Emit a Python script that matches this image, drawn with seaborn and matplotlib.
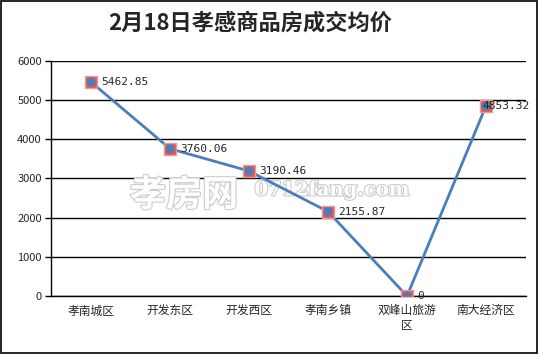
import matplotlib.pyplot as plt
import matplotlib.patches as mpatches
import matplotlib.patheffects as pe
import pandas as pd
import seaborn as sns

# Data
districts = ['孝南城区', '开发东区', '开发西区', '孝南乡镇', '双峰山旅游\n区', '南大经济区']
prices = [5462.85, 3760.06, 3190.46, 2155.87, 0, 4853.32]
price_labels = ['5462.85', '3760.06', '3190.46', '2155.87', '0', '4853.32']
yticks = [0, 1000, 2000, 3000, 4000, 5000, 6000]

df = pd.DataFrame({'pos': range(len(districts)), 'price': prices})

sns.set_style('white')
plt.rcParams['font.family'] = ['Noto Sans CJK SC', 'DejaVu Sans']

fig = plt.figure(figsize=(5.39, 3.54), dpi=100)
ax = fig.add_axes([0.0955, 0.1638, 0.8795, 0.664])

line_blue = '#4a7ebb'
sns.lineplot(data=df, x='pos', y='price', ax=ax, color=line_blue, linewidth=2, zorder=3)
sns.scatterplot(data=df, x='pos', y='price', ax=ax, marker='s', s=70, color='#d65a5a',
                edgecolor='#e89a9a', linewidth=1, zorder=4)
sns.scatterplot(data=df, x='pos', y='price', ax=ax, marker='o', s=38, color=line_blue,
                edgecolor='none', zorder=5)

for i, (v, lab) in enumerate(zip(prices, price_labels)):
    # the last label is pulled left so it stays inside the frame
    dx = -0.05 if i == len(prices) - 1 else 0.13
    ax.text(i + dx, v, lab, fontsize=8, family='DejaVu Sans Mono', va='center', ha='left', zorder=6)

ax.set_xlim(-0.5, len(districts) - 0.5)
ax.set_ylim(0, 6000)
ax.set_yticks(yticks)
ax.set_yticklabels([str(t) for t in yticks], fontsize=8)
ax.set_xticks(range(len(districts)))
ax.set_xticklabels(districts, fontsize=8.5)
ax.set_xticks([i - 0.5 for i in range(len(districts) + 1)], minor=True)
ax.tick_params(axis='x', which='major', length=0, pad=6)
ax.tick_params(axis='x', which='minor', length=4, width=1, color='black', direction='out')
ax.tick_params(axis='y', length=4, width=1, color='black', direction='out', left=True, pad=3)
ax.set_xlabel('')
ax.set_ylabel('')

ax.grid(axis='y', color='black', linewidth=1)
ax.set_axisbelow(True)
for side in ['top', 'right']:
    ax.spines[side].set_visible(False)
for side in ['left', 'bottom']:
    ax.spines[side].set_color('black')
    ax.spines[side].set_linewidth(1)

# watermark: outlined light-grey lettering, drawn beneath the line
outline = [pe.withStroke(linewidth=1.6, foreground='#cccccc')]
ax.text(0.241, 0.448, '孝房网', fontsize=26, color='white', ha='left', va='center',
        fontweight='bold', path_effects=outline, zorder=1, transform=fig.transFigure)
ax.text(0.472, 0.462, '0712fang.com', fontsize=14, color='white', ha='left', va='center',
        family='DejaVu Serif', fontweight='bold', path_effects=outline, zorder=1,
        transform=fig.transFigure)

fig.text(0.465, 0.935, '2月18日孝感商品房成交均价', fontsize=16, fontweight='bold', ha='center', va='center')

fig.patches.append(mpatches.Rectangle((0.002, 0.003), 0.995, 0.994, transform=fig.transFigure,
                                      fill=False, edgecolor='black', linewidth=1.2))

fig.savefig('out.png', dpi=100)
